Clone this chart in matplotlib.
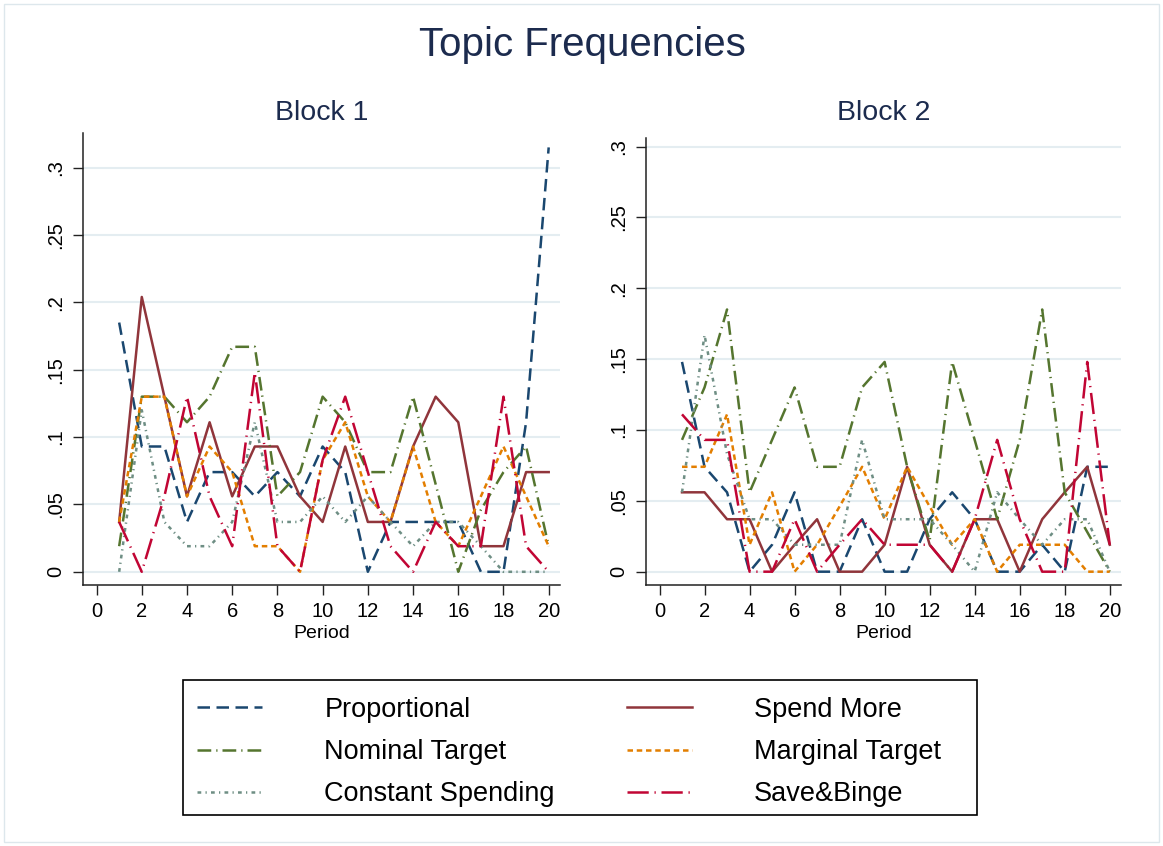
import matplotlib
matplotlib.use('Agg')
import matplotlib.pyplot as plt
from matplotlib.patches import Rectangle

# ---------------- data ----------------
periods = list(range(1, 21))
series_names = ["Proportional", "Spend More", "Nominal Target",
                "Marginal Target", "Constant Spending", "Save&Binge"]

prop1 = [0.185, 0.093, 0.093, 0.037, 0.074, 0.074, 0.056, 0.074, 0.056, 0.093,
         0.074, 0.0, 0.037, 0.037, 0.037, 0.037, 0.0, 0.0, 0.111, 0.315]
spend1 = [0.037, 0.204, 0.130, 0.056, 0.111, 0.056, 0.093, 0.093, 0.056, 0.037,
          0.093, 0.037, 0.037, 0.093, 0.130, 0.111, 0.019, 0.019, 0.074, 0.074]
nom1 = [0.019, 0.130, 0.130, 0.111, 0.130, 0.167, 0.167, 0.056, 0.074, 0.130,
        0.111, 0.074, 0.074, 0.130, 0.065, 0.0, 0.046, 0.074, 0.093, 0.019]
marg1 = [0.037, 0.130, 0.130, 0.056, 0.093, 0.074, 0.019, 0.019, 0.0, 0.083,
         0.111, 0.056, 0.037, 0.093, 0.037, 0.019, 0.056, 0.093, 0.056, 0.019]
const1 = [0.0, 0.120, 0.037, 0.019, 0.019, 0.037, 0.111, 0.037, 0.037, 0.056,
          0.037, 0.056, 0.037, 0.019, 0.037, 0.037, 0.019, 0.0, 0.0, 0.0]
save1 = [0.037, 0.0, 0.056, 0.130, 0.056, 0.019, 0.148, 0.019, 0.0, 0.083,
         0.130, 0.074, 0.019, 0.0, 0.037, 0.019, 0.019, 0.130, 0.019, 0.0]

prop2 = [0.148, 0.074, 0.056, 0.0, 0.019, 0.056, 0.0, 0.0, 0.037, 0.0,
         0.0, 0.037, 0.056, 0.037, 0.0, 0.0, 0.019, 0.0, 0.074, 0.074]
spend2 = [0.056, 0.056, 0.037, 0.037, 0.0, 0.019, 0.037, 0.0, 0.0, 0.019,
          0.074, 0.019, 0.0, 0.037, 0.037, 0.0, 0.037, 0.056, 0.074, 0.019]
nom2 = [0.093, 0.130, 0.185, 0.056, 0.093, 0.130, 0.074, 0.074, 0.130, 0.148,
        0.074, 0.022, 0.148, 0.093, 0.037, 0.093, 0.185, 0.056, 0.028, 0.0]
marg2 = [0.074, 0.074, 0.111, 0.019, 0.056, 0.0, 0.019, 0.046, 0.074, 0.037,
         0.074, 0.046, 0.019, 0.037, 0.0, 0.019, 0.019, 0.019, 0.0, 0.0]
const2 = [0.056, 0.167, 0.083, 0.037, 0.037, 0.019, 0.019, 0.019, 0.093, 0.037,
          0.037, 0.037, 0.019, 0.0, 0.056, 0.037, 0.019, 0.037, 0.037, 0.0]
save2 = [0.111, 0.093, 0.093, 0.0, 0.0, 0.037, 0.0, 0.019, 0.037, 0.019,
         0.019, 0.019, 0.0, 0.037, 0.093, 0.037, 0.0, 0.0, 0.148, 0.019]

block1 = [prop1, spend1, nom1, marg1, const1, save1]
block2 = [prop2, spend2, nom2, marg2, const2, save2]

xticks = list(range(0, 21, 2))
yticks = [0, 0.05, 0.10, 0.15, 0.20, 0.25, 0.30]
ytick_labels = ["0", ".05", ".1", ".15", ".2", ".25", ".3"]

# ---------------- style ----------------
colors = ["#1a476f", "#90353b", "#55752f", "#e37e00", "#6e8e84", "#c10534"]
lw = 1.8
styles = [
    (0, (5.0, 2.6)),                  # dash
    "solid",                          # solid
    (0, (5.5, 2.0, 0.5, 2.0)),        # long dash dot
    (0, (2.2, 1.5)),                  # short dash
    (0, (1.5, 1.7, 0.5, 1.7)),        # short dash dot
    (0, (8.5, 2.3, 0.5, 2.3)),        # long dash dot (longer)
]

W, H = 1163, 846
plt.rcParams['font.family'] = ['Liberation Sans', 'DejaVu Sans']
fig = plt.figure(figsize=(W / 100, H / 100), dpi=100)
title_color = "#1c2b4e"


def fx(px):
    return px / W


def fy(py):
    return 1 - py / H


ax1 = fig.add_axes([fx(83), fy(585), (560 - 83) / W, (585 - 133) / H])
ax2 = fig.add_axes([fx(646), fy(585), (1121 - 646) / W, (585 - 138) / H])

handles = []
for ax, data, ylim_top in [(ax1, block1, 0.3257), (ax2, block2, 0.306)]:
    for i, vals in enumerate(data):
        ln, = ax.plot(periods, vals, color=colors[i], lw=lw,
                      linestyle=styles[i], label=series_names[i])
        if ax is ax1:
            handles.append(ln)
    ax.set_xlim(-0.6, 20.5)
    ax.set_ylim(-0.0098 if ax is ax1 else -0.0094, ylim_top)
    ax.set_xticks(xticks)
    ax.set_xticklabels([str(t) for t in xticks])
    ax.set_yticks(yticks)
    ax.set_yticklabels(ytick_labels, rotation=90, va='center')
    ax.grid(axis='y', color='#e4edf1', lw=1.5)
    ax.grid(axis='x', visible=False)
    ax.set_axisbelow(True)
    for s in ['top', 'right']:
        ax.spines[s].set_visible(False)
    for s in ['left', 'bottom']:
        ax.spines[s].set_linewidth(1.1)
        ax.spines[s].set_color('#222222')
    ax.tick_params(axis='both', length=7, width=1.0, color='#222222',
                   labelsize=14.5)
    ax.tick_params(axis='y', pad=6)
    ax.tick_params(axis='x', pad=5)
    ax.set_facecolor('white')

# titles and axis titles
fig.text(fx(582), fy(45), "Topic Frequencies", ha='center', va='center',
         fontsize=29, color=title_color)
fig.text(fx(321.5), fy(113), "Block 1", ha='center', va='center',
         fontsize=20.5, color=title_color)
fig.text(fx(883.5), fy(113), "Block 2", ha='center', va='center',
         fontsize=20.5, color=title_color)
fig.text(fx(321.5), fy(633), "Period", ha='center', va='center', fontsize=14)
fig.text(fx(883.5), fy(633), "Period", ha='center', va='center', fontsize=14)

# legend (row-major in 2 columns)
order = [0, 2, 4, 1, 3, 5]
fig.legend([handles[i] for i in order], [series_names[i] for i in order],
           ncol=2, loc='center left', bbox_to_anchor=(fx(197), fy(752)),
           frameon=False, fontsize=19.5, handlelength=2.4,
           handletextpad=2.3, columnspacing=2.65, labelspacing=0.6,
           borderpad=0, borderaxespad=0)
fig.patches.append(Rectangle((fx(183), fy(815)), (977 - 183) / W,
                             (815 - 680) / H, transform=fig.transFigure,
                             fill=False, ec='black', lw=1.2))
# faint outer frame
fig.patches.append(Rectangle((fx(4), fy(842)), (1159 - 4) / W, (842 - 4) / H,
                             transform=fig.transFigure, fill=False,
                             ec='#dde7ec', lw=1.0))

fig.savefig("out.png", dpi=100, facecolor='white')
